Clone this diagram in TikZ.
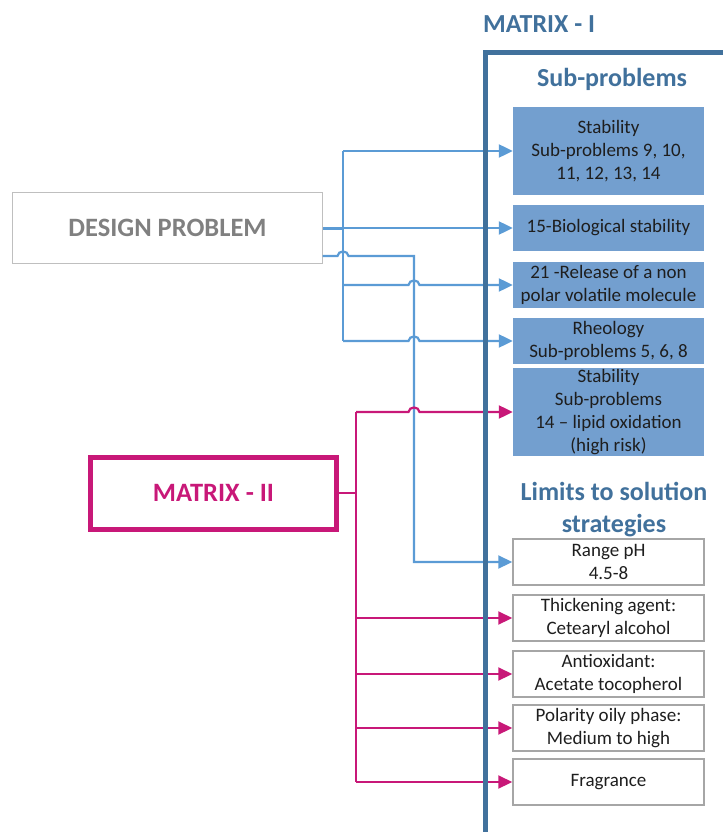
\documentclass[tikz,border=0pt]{standalone}
\usepackage{fontspec}
\setmainfont{Carlito}
\usetikzlibrary{arrows.meta}
\definecolor{arrblue}{HTML}{5B9BD5}
\definecolor{boxblue}{HTML}{739FCF}
\definecolor{darkblue}{HTML}{41719C}
\definecolor{mag}{HTML}{C81878}
\definecolor{dpgray}{HTML}{808080}
\definecolor{dpborder}{HTML}{BFBFBF}
\definecolor{wborder}{HTML}{A6A6A6}
\definecolor{txt}{HTML}{1E1E1E}
\newcommand\hopat[2]{-- ({#1-5.5},#2) .. controls ({#1-5},{#2-6}) and ({#1+5},{#2-6}) .. ({#1+5.5},#2)}
\begin{document}
\begin{tikzpicture}[x=1pt,y=-1pt,
  bluebox/.style={fill=boxblue, minimum width=191pt, inner sep=0pt, align=center, text=txt, font=\fontsize{19}{23}\selectfont},
  whitebox/.style={draw=wborder, line width=1.5pt, fill=white, minimum width=191pt, minimum height=46pt, inner sep=0pt, align=center, text=txt, font=\fontsize{19}{23}\selectfont},
  bl/.style={draw=arrblue, line width=2.2pt},
  mg/.style={draw=mag, line width=2.2pt},
  tipb/.style={-{Triangle[length=14pt,width=13pt]}},
  head/.style={text=darkblue, font=\fontsize{26}{30}\selectfont\bfseries, inner sep=0pt}]
\useasboundingbox (0,0) rectangle (723,832);

% headings
\node[head, anchor=base west] (m1lab) at (483,32.5) {MATRIX - I};
\node[head, anchor=base] (sublab) at (612,87) {Sub-problems};
\node[head, anchor=base] (lim1) at (614,500) {Limits to solution};
\node[head, anchor=base] (lim2) at (614,532) {strategies};

% left boxes
\node[draw=dpborder, line width=1.5pt, minimum width=310pt, minimum height=71pt, inner sep=0pt,
      text=dpgray, font=\fontsize{26.5}{30}\selectfont\bfseries] (dp) at (167.5,228) {DESIGN PROBLEM};
\node[draw=mag, line width=5pt, minimum width=246pt, minimum height=72pt, inner sep=0pt,
      text=mag, font=\fontsize{26.5}{30}\selectfont\bfseries] (m2) at (213.5,493) {MATRIX - II};

% sub-problem boxes
\node[bluebox, minimum height=88pt] (b1) at (608.5,151) {Stability\\Sub-problems 9, 10,\\11, 12, 13, 14};
\node[bluebox, minimum height=46pt] (b2) at (608.5,228) {15-Biological stability};
\node[bluebox, minimum height=46pt] (b3) at (608.5,285) {21 -Release of a non\\polar volatile molecule};
\node[bluebox, minimum height=46pt] (b4) at (608.5,341) {Rheology\\Sub-problems 5, 6, 8};
\node[bluebox, minimum height=88pt] (b5) at (608.5,412) {Stability\\Sub-problems\\14 -- lipid oxidation\\(high risk)};

% limit boxes
\node[whitebox] (rph) at (608.5,562) {Range pH\\4.5-8};
\node[whitebox] (thk) at (608.5,618) {Thickening agent:\\Cetearyl alcohol};
\node[whitebox] (aox) at (608.5,674) {Antioxidant:\\Acetate tocopherol};
\node[whitebox] (pol) at (608.5,728) {Polarity oily phase:\\Medium to high};
\node[whitebox] (fra) at (608.5,782) {Fragrance};

% junction coordinates
\coordinate (t1top) at (343,151);
\coordinate (t1bot) at (343,341);
\coordinate (dp2) at (322.5,256);
\coordinate (t2) at (414,256);
\coordinate (mtop) at (356,412);
\coordinate (mbot) at (356,782);

% blue connectors
\draw[bl] (t1top) -- (t1bot);
\draw[bl, line width=3pt] (dp.east) -- (dp.east -| t1top);
\draw[bl, tipb] (t1top) -- (b1.west);
\draw[bl, tipb] (dp.east) -- (b2.west);
\draw[bl, tipb] (t1top |- b3.west) \hopat{414}{285} -- (b3.west);
\draw[bl, tipb] (t1bot) \hopat{414}{341} -- (b4.west);
\draw[bl, tipb] (dp2) \hopat{343}{256} -- (t2) |- (rph.west);

% magenta connectors
\draw[mg] (m2.east) -- (m2.east -| mtop);
\draw[mg] (mtop) -- (mbot);
\draw[mg, tipb] (mtop) \hopat{414}{412} -- (b5.west);
\draw[mg, tipb] (mtop |- thk.west) -- (thk.west);
\draw[mg, tipb] (mtop |- aox.west) -- (aox.west);
\draw[mg, tipb] (mtop |- pol.west) -- (pol.west);
\draw[mg, tipb] (mbot) -- (fra.west);

% Matrix I frame line
\draw[darkblue, line width=5pt] (485.5,832) -- (485.5,52.5) -- (723,52.5);
\end{tikzpicture}
\end{document}
